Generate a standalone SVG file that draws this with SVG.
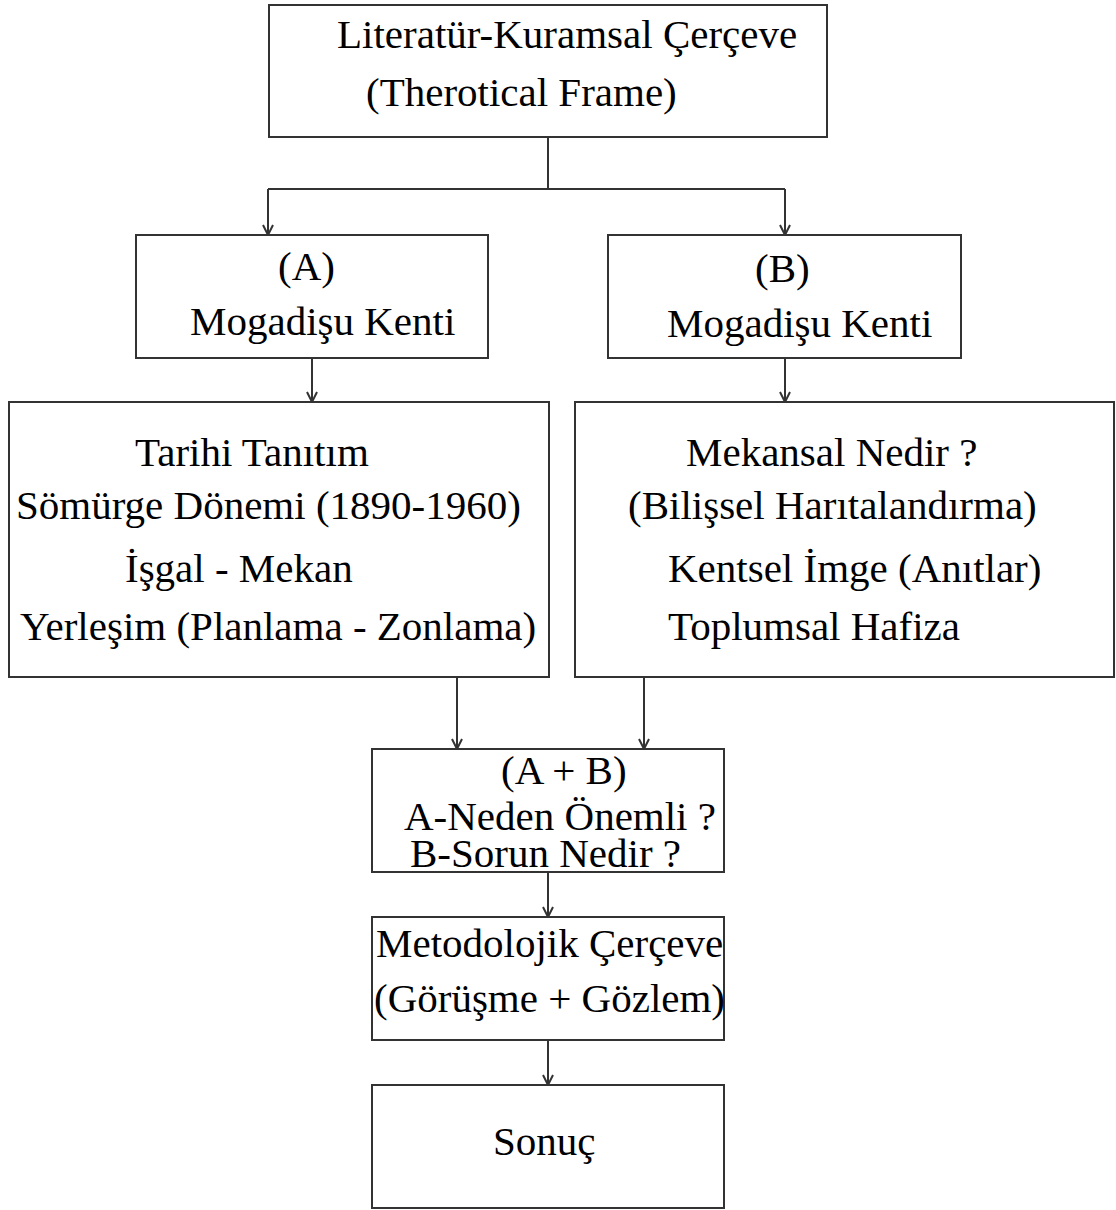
<svg xmlns="http://www.w3.org/2000/svg" width="1116" height="1210" viewBox="0 0 1116 1210">
<style>
.box{fill:#fff;stroke:#333;stroke-width:2}
.t{font-family:"Liberation Serif","Times New Roman",serif;font-size:41px;fill:#000}
.c{fill:none;stroke:#333;stroke-width:2}
</style>
<defs>
<marker id="ah" viewBox="0 0 12 12" refX="11" refY="6" markerWidth="12" markerHeight="12" markerUnits="userSpaceOnUse" orient="auto">
<path d="M1,1 L11,6 L1,11" fill="none" stroke="#333" stroke-width="2"/>
</marker>
</defs>
<rect width="1116" height="1210" fill="#fff"/>
<g id="connectors">
<path class="c" d="M548,137 V189"/>
<path class="c" d="M268,189 H785"/>
<path class="c" d="M268,189 V235" marker-end="url(#ah)"/>
<path class="c" d="M785,189 V235" marker-end="url(#ah)"/>
<path class="c" d="M312,358 V402" marker-end="url(#ah)"/>
<path class="c" d="M785,358 V402" marker-end="url(#ah)"/>
<path class="c" d="M457,677 V749" marker-end="url(#ah)"/>
<path class="c" d="M644,677 V749" marker-end="url(#ah)"/>
<path class="c" d="M548,872 V917" marker-end="url(#ah)"/>
<path class="c" d="M548,1040 V1085" marker-end="url(#ah)"/>
</g>
<g id="top">
<rect class="box" x="269" y="5" width="558" height="132"/>
<text class="t" x="337" y="48">Literatür-Kuramsal Çerçeve</text>
<text class="t" x="366" y="106">(Therotical Frame)</text>
</g>
<g id="a">
<rect class="box" x="136" y="235" width="352" height="123"/>
<text class="t" x="278" y="280">(A)</text>
<text class="t" x="190" y="335">Mogadişu Kenti</text>
</g>
<g id="b">
<rect class="box" x="608" y="235" width="353" height="123"/>
<text class="t" x="755" y="282">(B)</text>
<text class="t" x="667" y="337">Mogadişu Kenti</text>
</g>
<g id="c">
<rect class="box" x="9" y="402" width="540" height="275"/>
<text class="t" x="135" y="466">Tarihi Tanıtım</text>
<text class="t" x="16" y="519">Sömürge Dönemi (1890-1960)</text>
<text class="t" x="125" y="582">İşgal - Mekan</text>
<text class="t" x="20" y="640">Yerleşim (Planlama - Zonlama)</text>
</g>
<g id="d">
<rect class="box" x="575" y="402" width="539" height="275"/>
<text class="t" x="686" y="466">Mekansal Nedir ?</text>
<text class="t" x="628" y="519">(Bilişsel Harıtalandırma)</text>
<text class="t" x="668" y="582">Kentsel İmge (Anıtlar)</text>
<text class="t" x="668" y="640">Toplumsal Hafiza</text>
</g>
<g id="e">
<rect class="box" x="372" y="749" width="352" height="123"/>
<text class="t" x="501" y="784">(A + B)</text>
<text class="t" x="404" y="830">A-Neden Önemli ?</text>
<text class="t" x="410" y="867">B-Sorun Nedir ?</text>
</g>
<g id="f">
<rect class="box" x="372" y="917" width="352" height="123"/>
<text class="t" x="376" y="957">Metodolojik Çerçeve</text>
<text class="t" x="374" y="1012">(Görüşme + Gözlem)</text>
</g>
<g id="g">
<rect class="box" x="372" y="1085" width="352" height="123"/>
<text class="t" x="493" y="1155">Sonuç</text>
</g>
</svg>
